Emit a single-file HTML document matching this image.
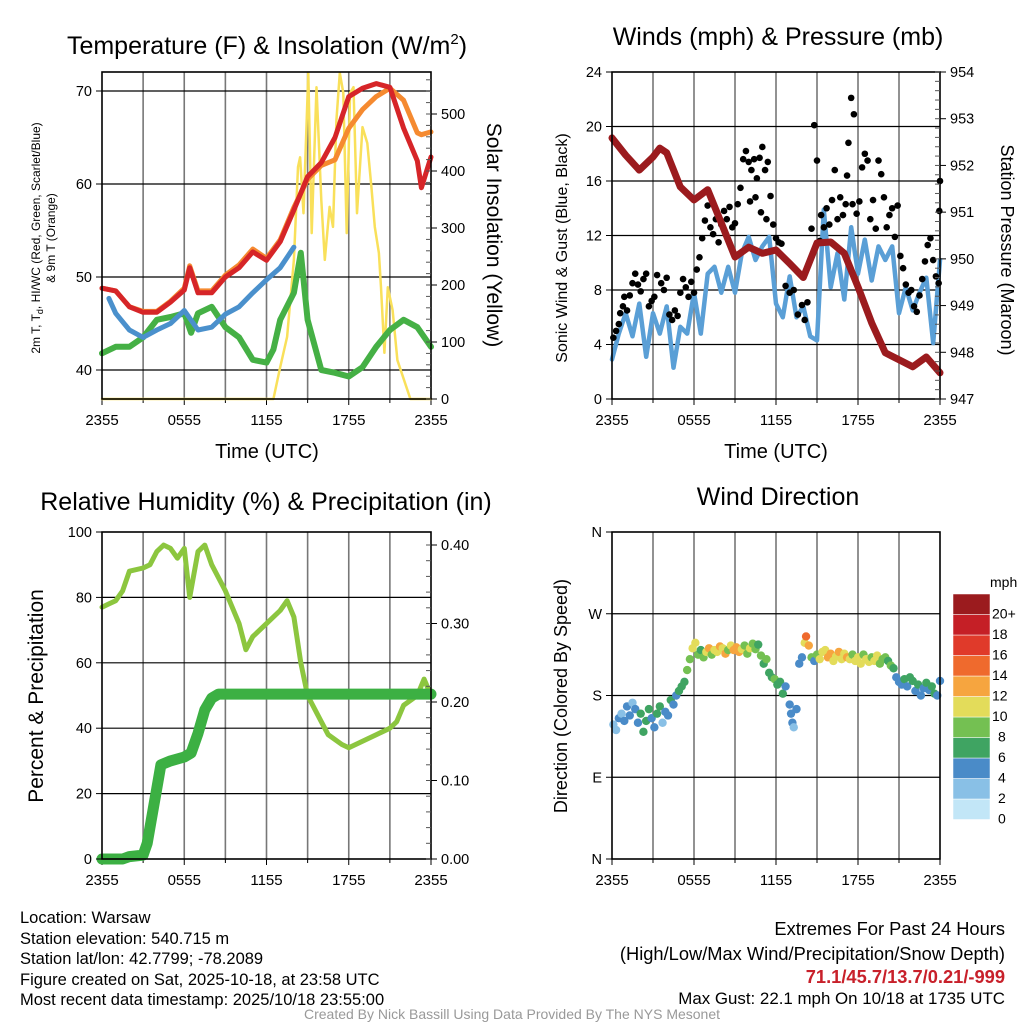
<!DOCTYPE html>
<html><head><meta charset="utf-8"><style>
html,body{margin:0;padding:0;background:#fff}
svg{display:block;font-family:"Liberation Sans",Arial,sans-serif}
</style></head><body>
<svg id="c" width="1024" height="1024" viewBox="0 0 1024 1024" xmlns="http://www.w3.org/2000/svg">
<g id="g"></g>
<g font-size="16.5" fill="#000">
<text x="20" y="923">Location: Warsaw</text>
<text x="20" y="944">Station elevation: 540.715 m</text>
<text x="20" y="964">Station lat/lon: 42.7799; -78.2089</text>
<text x="20" y="985">Figure created on Sat, 2025-10-18, at 23:58 UTC</text>
<text x="20" y="1005">Most recent data timestamp: 2025/10/18 23:55:00</text>
<text x="1005" y="935" text-anchor="end" font-size="18.3">Extremes For Past 24 Hours</text>
<text x="1005" y="960" text-anchor="end" font-size="18.3">(High/Low/Max Wind/Precipitation/Snow Depth)</text>
<text x="1005" y="983" text-anchor="end" font-size="18.3" font-weight="bold" fill="#c8202a">71.1/45.7/13.7/0.21/-999</text>
<text x="1005" y="1004" text-anchor="end" font-size="16.9">Max Gust: 22.1 mph On 10/18 at 1735 UTC</text>
<text x="512" y="1019" text-anchor="middle" font-size="14" fill="#999">Created By Nick Bassill Using Data Provided By The NYS Mesonet</text>
</g>
</svg>
<script>
// ---------- data ----------
const xTickLabels=["2355","0555","1155","1755","2355"];
const hours=[0,1,2,3,4,5,6,6.4,7,8,9,10,11,12,13,14,15,16,17,18,19,20,21,22,23,23.3,24];
const tempRed=[48.8,48.5,46.8,46.2,46.2,47.3,48.6,51,48.3,48.3,50,51,52.7,51.8,53.8,57.2,60.8,62.3,65,69.4,70.3,70.8,70.4,66,62.5,59.6,62.9];
const tempOrange=[48.8,48.5,46.8,46.3,46.3,47.4,48.8,51.2,48.5,48.5,50.2,51.3,53,52,54,57.5,60.5,62,62.6,66,68,69.4,70.3,69,65.5,65.3,65.6];
const blueHours=[0.5,1,2,3,4,5,6,7,8,9,10,11,12,13,14];
const tempBlue=[47.7,46.1,44.3,43.5,44.3,45,46.4,44.3,44.6,46,46.8,48.3,49.7,51,53.2];
const greenHours=[0,1,2,3,4,5,6,6.5,7,8,9,10,11,12,12.5,13,14,14.5,15,16,17,18,19,20,21,22,23,24];
const dewGreen=[41.8,42.5,42.5,43.5,45.4,45.7,46.1,44,46.1,46.8,44.6,43.5,41.1,40.8,42.2,45.4,48.3,52.6,45.4,40,39.7,39.3,40.3,42.5,44.3,45.4,44.6,42.5];
const insolHours=[0,12.5,13,13.5,14,14.3,14.45,14.7,15.05,15.3,15.65,16,16.25,16.6,16.85,17.1,17.35,17.6,17.85,18.1,18.35,18.6,19,19.35,19.65,19.9,20.2,20.35,20.6,20.85,21.2,21.55,22.5,24];
const insolVals=[0,0,56,109,244,407,424,326,572,291,547,349,244,337,302,489,572,537,291,537,547,326,477,449,372,302,256,196,81,196,156,68,0,0];
// winds
const windHours=[0,0.5,1,1.5,2,2.5,3,3.5,4,4.5,5,5.5,6,6.5,7,7.5,8,8.5,9,9.5,10,10.5,11,11.5,12,12.5,13,13.5,14,14.5,15,15.5,16,16.5,17,17.5,18,18.5,19,19.5,20,20.5,21,21.5,22,22.5,23,23.5,24];
const windSonic=[2.9,4.8,6.3,4.6,7,3.1,6.3,4.8,6.8,2.3,5.3,4.8,7.8,4.8,9.2,9.7,7.8,9.7,7.8,10.7,11.9,10.2,11.2,11.9,7,6,9,6,6.8,4.6,4.3,13.9,8.2,10.7,7.3,12.6,9.2,11.7,8.7,11.2,10.2,11.2,6.3,8.2,6.5,7.8,8.9,4.1,10.2];
const presHours=[0,1,2,3,3.5,4,5,6,7,8,9,10,11,12,13,14,15,16,17,18,19,20,21,22,23,24];
const pressure=[952.59,952.22,951.9,952.18,952.37,952.27,951.54,951.26,951.48,950.77,950.04,950.25,950.12,950.19,949.9,949.6,950.34,950.36,950.12,949.4,948.63,947.99,947.84,947.69,947.9,947.56];
const gustHours=[0.1,0.3,0.5,0.6,0.8,0.9,1.1,1.3,1.5,1.7,1.9,2.1,2.3,2.5,2.7,2.9,3.1,3.3,3.6,3.8,4.0,4.2,4.4,4.6,4.8,5.0,5.2,5.4,5.6,5.8,6.0,6.2,6.4,6.6,6.8,7.0,7.2,7.4,7.6,7.8,8.0,8.2,8.4,8.6,8.8,9.0,9.2,9.4,9.6,9.8,10.0,10.2,10.4,10.6,10.8,11.0,11.2,11.4,10.1,10.5,10.9,11.3,11.6,11.8,12.0,12.2,12.4,12.7,13.0,13.3,13.6,13.9,14.1,14.3,14.6,14.8,15.0,15.2,15.3,15.5,15.7,15.9,16.1,16.3,16.5,16.7,16.9,17.1,17.3,17.5,17.7,17.2,17.6,17.9,18.1,18.3,18.5,18.7,18.9,19.1,19.3,19.5,19.7,19.9,20.1,20.3,20.5,20.7,20.9,21.1,21.3,21.5,21.7,21.9,22.1,22.3,22.5,22.7,22.9,23.1,23.3,23.5,23.7,23.9,24.0,23.95];
const gustVals=[4.5,5,5.5,6.3,6.8,7.5,6.5,7.6,8.5,9.2,8.4,7.9,8.8,9.2,6.8,7.2,7.5,9.1,8.5,8,8.9,6.2,5.8,6.5,6.1,7.8,8.8,8.2,7.5,8.6,7.8,9.5,10.4,11.8,13.1,14.2,12.6,12.1,13.2,11.5,12.8,13.8,13.2,14.1,12.6,12.9,14.3,15.5,17.6,18.2,17.4,16.8,17.6,16.2,17.7,18.5,16.8,17.4,14.5,14.8,13.7,13.2,14.9,12.8,11.8,11.5,11.4,8.3,7.8,8.0,6.2,6.9,5.8,7.1,12.5,20.1,17.5,11.6,13.5,12.6,14.0,12.8,14.6,16.8,13.2,14.8,13.5,14.3,18.8,22.1,20.9,16.4,14.3,13.6,14.5,17.0,18.0,17.5,13.2,14.6,12.5,17.5,16.5,14.8,12.6,13.5,14.0,11.9,14.2,10.5,9.6,8.4,7.8,8.0,6.8,6.4,7.6,8.8,10.1,11.3,11.8,10.2,9.0,8.5,16.0,13.8];
// RH & precip
const rhHours=[0,0.5,1,1.5,2,3,3.5,4,4.5,5,5.5,6,6.4,7,7.5,8,9,9.5,10,10.5,11,12,13,13.5,14,14.5,15,16,16.5,17.5,18,19,20,21,21.5,22,23,23.5,24];
const rhVals=[77,78,79,82,88,89,90,94,96,95,92,95,80,94,96,90,82,77,72,64,68,72,76,79,74,60,50,42,38,35,34,36,38,40,42,47,50,55,50];
const pcpHours=[0,1.5,2,3,3.3,3.6,4,4.3,5,6,6.5,7,7.5,8,8.5,24];
const pcpVals=[0,0,0.003,0.005,0.02,0.05,0.09,0.12,0.125,0.13,0.135,0.16,0.19,0.205,0.21,0.21];
// wind direction
const dirHours=[0.1,0.3,0.5,0.7,0.9,1.1,1.3,1.5,1.7,1.9,2.1,2.3,2.5,2.7,2.9,3.1,3.3,3.5,3.7,3.9,4.1,4.3,4.5,4.7,4.9,5.1,5.3,5.5,5.7,5.9,6.1,6.3,6.5,6.7,6.9,7.1,7.3,7.5,7.7,7.9,8.1,8.3,8.5,8.7,8.9,9.1,9.3,9.5,9.7,9.9,10.1,10.3,10.5,10.7,10.9,11.1,11.3,11.5,11.7,11.9,12.1,12.3,12.5,12.7,13.0,13.1,13.2,13.3,13.5,13.7,13.9,14.1,14.2,14.4,14.6,14.8,15.0,15.2,15.4,15.6,15.8,16.0,16.2,16.4,16.6,16.8,17.0,17.2,17.4,17.6,17.8,18.0,18.2,18.4,18.6,18.8,19.0,19.2,19.4,19.6,19.8,20.0,20.2,20.4,20.6,20.8,21.0,21.2,21.4,21.6,21.8,22.0,22.2,22.4,22.6,22.8,23.0,23.2,23.4,23.6,23.8,24.0];
const dirDeg=[148,142,155,160,152,168,158,172,165,150,160,140,152,165,155,145,160,168,150,162,158,175,170,180,185,190,195,208,220,232,238,225,230,222,228,232,225,230,228,234,232,226,230,235,230,233,228,231,235,226,232,237,231,236,224,215,220,205,200,198,192,195,182,190,170,160,150,145,165,215,222,238,245,235,222,218,225,220,228,230,222,226,218,223,228,220,226,222,220,225,218,222,215,225,220,217,222,218,224,215,220,222,218,213,210,200,195,192,198,190,200,196,185,192,180,188,194,186,190,182,180,196];
const dirSpd=[3,3,4,3,4,4,4,3,5,4,6,6,7,6,4,5,7,6,3,4,5,6,4,5,6,7,6,8,9,11,10,8,7,9,10,12,8,10,11,12,10,12,9,10,12,13,12,10,9,8,10,9,8,7,8,7,8,6,7,8,6,7,7,5,4,4,4,3,4,5,4,11,14,12,9,4,8,11,10,11,12,13,11,10,12,11,10,12,11,9,10,11,10,9,11,10,9,11,10,9,8,9,7,8,7,5,4,5,6,5,6,7,5,7,4,5,6,5,7,6,4,4];
const cbLabels=["0","2","4","6","8","10","12","14","16","18","20+"];
const cbColors=["#c2e6f7","#89c0e6","#4a8bc8","#3fa462","#74c052","#e3dc5a","#f6a53f","#ef6a2d","#e03a2a","#c51f26","#9b1b1e"];

// ---------- helpers ----------
const NS="http://www.w3.org/2000/svg";
const root=document.getElementById('g');
function mk(tag,attrs,parent){const e=document.createElementNS(NS,tag);for(const k in attrs)e.setAttribute(k,attrs[k]);(parent||root).appendChild(e);return e;}
function txt(s,attrs,parent){const e=mk('text',attrs,parent);e.textContent=s;return e;}
function panel(x0,y0,x1,y1){
  return {x0,y0,x1,y1,xs:h=>x0+(x1-x0)*h/24};
}
function lin(d0,d1,p0,p1){return v=>p0+(v-d0)*(p1-p0)/(d1-d0);}
function frame(P,name,hTicks,ys){
  const g=mk('g',{});
  
  
  for(let h=3;h<24;h+=3){const l=mk('line',{x1:P.xs(h),x2:P.xs(h),y1:P.y0,y2:P.y1,stroke:'#777','stroke-width':1.6},g);
    }
  hTicks.forEach(v=>{const y=ys(v);const l=mk('line',{x1:P.x0,x2:P.x1,y1:y,y2:y,stroke:'#000','stroke-width':1.2},g);
    });
  xTickLabels.forEach((s,i)=>{const x=P.xs(i*6);
    mk('line',{x1:x,x2:x,y1:P.y1,y2:P.y1+6,stroke:'#000','stroke-width':1},g);
    const t=txt(s,{x:x,y:P.y1+26,'text-anchor':'middle','font-size':15},g);
    });
  for(let h=3;h<24;h+=6){mk('line',{x1:P.xs(h),x2:P.xs(h),y1:P.y1,y2:P.y1+4,stroke:'#000'},g);}
  return g;
}
function border(P){const r=mk('rect',{x:P.x0,y:P.y0,width:P.x1-P.x0,height:P.y1-P.y0,fill:'none',stroke:'#000','stroke-width':1.6});
  }
function leftTicks(P,vals,ys,fmt){vals.forEach(v=>{const y=ys(v);mk('line',{x1:P.x0-6,x2:P.x0,y1:y,y2:y,stroke:'#000'});
  const t=txt(fmt(v),{x:P.x0-10,y:y+5,'text-anchor':'end','font-size':14.5});});}
function rightTicks(P,vals,ys,fmt,minor){
  if(minor){for(let v=minor[0];v<=minor[1]+1e-9;v+=minor[2]){const y=ys(v);if(y<P.y0-0.5)continue;mk('line',{x1:P.x1,x2:P.x1-5,y1:y,y2:y,stroke:'#555'});}}
  vals.forEach(v=>{const y=ys(v);mk('line',{x1:P.x1,x2:P.x1+6,y1:y,y2:y,stroke:'#000'});
  const t=txt(fmt(v),{x:P.x1+10,y:y+5,'font-size':14.5});});}
function path(xsArr,ysArr,xs,ys,attrs,name){
  const d=xsArr.map((h,i)=>(i?'L':'M')+xs(h).toFixed(1)+','+ys(ysArr[i]).toFixed(1)).join('');
  const p=mk('path',Object.assign({d,fill:'none','stroke-linejoin':'round','stroke-linecap':'round'},attrs));
  return p;}
function title(s,x,y,size,name,rot){
  const a={x,y,'text-anchor':'middle','font-size':size};if(rot)a.transform='rotate('+rot+' '+x+' '+y+')';
  const t=txt(s,a);return t;}

// ---------- Panel 1: temperature ----------
{
const P=panel(102,72,431,399);
const yT=lin(40,70,370,91), yS=lin(0,500,399,114);
frame(P,'temperature',[40,50,60,70],yT);
path(insolHours,insolVals,P.xs,yS,{stroke:'#f9e05a','stroke-width':2.5},'insolation-line');
path(greenHours,dewGreen,P.xs,yT,{stroke:'#45b045','stroke-width':6},'dewpoint-line');
path(blueHours,tempBlue,P.xs,yT,{stroke:'#4a90cc','stroke-width':5},'heat-index-line');
path(hours,tempOrange,P.xs,yT,{stroke:'#f58a30','stroke-width':5},'temp-9m-line');
path(hours,tempRed,P.xs,yT,{stroke:'#d62528','stroke-width':5},'temp-2m-line');
border(P);
leftTicks(P,[40,50,60,70],yT,v=>v);
rightTicks(P,[0,100,200,300,400,500],yS,v=>v,[0,580,20]);
const t=txt('',{x:267,y:54,'text-anchor':'middle','font-size':25});t.innerHTML='Temperature (F) &amp; Insolation (W/m<tspan font-size="15" dy="-10">2</tspan><tspan dy="10">)</tspan>';

title('Time (UTC)',267,458,20,'x-axis-title');
const a=txt('',{x:40,y:238,'text-anchor':'middle','font-size':12,transform:'rotate(-90 40 238)'});
a.innerHTML='2m T, T<tspan font-size="9" dy="3">d</tspan><tspan dy="-3">, HI/WC (Red, Green, Scarlet/Blue)</tspan>';

title('& 9m T (Orange)',55,238,12,'y-axis-title-2',-90);
title('Solar Insolation (Yellow)',487,235,21,'right-axis-title',90);
}
// ---------- Panel 2: winds ----------
{
const P=panel(612,72,940,399);
const yW=lin(0,24,399,72), yP=lin(947,954,399,72);
frame(P,'winds',[4,8,12,16,20],yW);
path(windHours,windSonic,P.xs,yW,{stroke:'#5a9fd6','stroke-width':4.5},'sonic-wind-line');
gustHours.forEach((h,i)=>{const c=mk('circle',{cx:P.xs(h),cy:yW(gustVals[i]),r:3.3,fill:'#000'});
  });
path(presHours,pressure,P.xs,yP,{stroke:'#9b1b1e','stroke-width':7},'pressure-line');
border(P);
leftTicks(P,[0,4,8,12,16,20,24],yW,v=>v);
rightTicks(P,[947,948,949,950,951,952,953,954],yP,v=>v,[947,954,0.2]);
title('Winds (mph) & Pressure (mb)',778,45,25,'winds-title');
title('Time (UTC)',776,458,20,'x-axis-title');
title('Sonic Wind & Gust (Blue, Black)',567,248,16,'y-axis-title',-90);
title('Station Pressure (Maroon)',1001,250,18,'right-axis-title',90);
}
// ---------- Panel 3: RH ----------
{
const P=panel(102,532,431,859);
const yR=lin(0,100,859,532), yQ=lin(0,0.4,859,545);
frame(P,'humidity',[20,40,60,80],yR);
path(rhHours,rhVals,P.xs,yR,{stroke:'#8cc63f','stroke-width':5},'rh-line');
path(pcpHours,pcpVals,P.xs,yQ,{stroke:'#3cb043','stroke-width':11},'precip-line');
border(P);
leftTicks(P,[0,20,40,60,80,100],yR,v=>v);
rightTicks(P,[0,0.1,0.2,0.3,0.4],yQ,v=>v.toFixed(2),[0,0.41,0.02]);
title('Relative Humidity (%) & Precipitation (in)',266,510,25,'humidity-title');
title('Percent & Precipitation',43,696,21,'y-axis-title',-90);
}
// ---------- Panel 4: wind direction ----------
{
const P=panel(612,532,940,859);
const yD=lin(0,360,859,532);
frame(P,'direction',[90,180,270],yD);
dirHours.forEach((h,i)=>{const s=dirSpd[i];const ci=Math.min(10,Math.floor(s/2));
  const c=mk('circle',{cx:P.xs(h),cy:yD(dirDeg[i]),r:4.2,fill:cbColors[ci]});
  });
border(P);
leftTicks(P,[0,90,180,270,360],yD,v=>['N','E','S','W','N'][v/90]);
title('Wind Direction',778,505,25,'direction-title');
title('Direction (Colored By Speed)',567,696,18,'y-axis-title',-90);
const cb=mk('g',{});
const bx=953,bw=37,top=594,bh=20.5;
cbColors.forEach((c,i)=>{const y=top+(10-i)*bh;const r=mk('rect',{x:bx,y:y,width:bw,height:bh,fill:c,stroke:'#fff','stroke-width':0.5},cb);
  
  const t=txt(cbLabels[i],{x:bx+bw+2+ (cbLabels[i].length<2?6:0),y:y+bh/2+14,'font-size':14},cb);
  });
const u=txt('mph',{x:990,y:587,'font-size':14},cb);
}
</script>
</body></html>
